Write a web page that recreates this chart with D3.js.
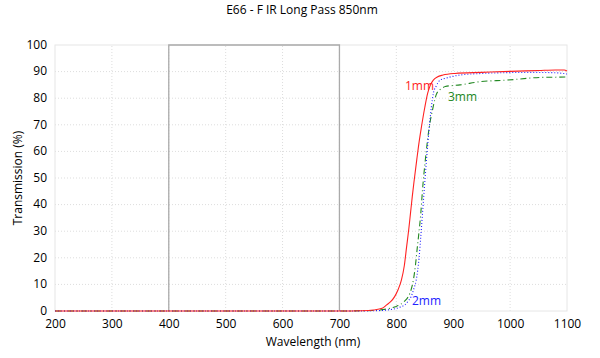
<!DOCTYPE html>
<html>
<head>
<meta charset="utf-8">
<script src="https://cdn.jsdelivr.net/npm/d3@7"></script>
<style>
  body { margin: 0; background: #fff; }
  svg text { font-family: "Comic Sans MS", "Open Sans", sans-serif; fill: #000; }
</style>
</head>
<body>
<svg id="chart" width="600" height="358"></svg>
<script>
const title = "E66 - F IR Long Pass 850nm";
const xLabel = "Wavelength (nm)";
const yLabel = "Transmission (%)";
const xTicks = [200, 300, 400, 500, 600, 700, 800, 900, 1000, 1100];
const yTicks = [0, 10, 20, 30, 40, 50, 60, 70, 80, 90, 100];
const boxRange = [400, 700];

const wl1mm = [200, 700, 740, 760, 775, 783, 790, 797, 803, 809, 814, 818, 822, 825, 828, 831, 836, 840, 844, 850, 855, 860, 865, 872, 882, 903, 950, 1000, 1050, 1080, 1095, 1100];
const t1mm  = [0, 0, 0.1, 0.4, 1, 2.3, 3.5, 5.4, 8, 11.7, 17, 24, 31, 37, 43, 48.5, 57, 63.5, 69, 76.5, 81.8, 85, 86.8, 88, 88.7, 89.3, 89.7, 90.1, 90.4, 90.6, 90.6, 90.2];

const wl2mm = [200, 700, 760, 780, 800, 808, 815, 821, 826, 831, 835, 840, 843, 846, 849, 853, 858, 865, 870, 877, 888, 912, 950, 994, 1040, 1075, 1090, 1100];
const t2mm  = [0, 0, 0.1, 0.3, 1, 1.6, 2.3, 3.8, 5.4, 8.5, 11.7, 20, 28, 36.7, 45.5, 56.8, 69.3, 81.8, 84.5, 86.8, 87.6, 88.7, 89.3, 89.6, 89.7, 89.6, 89.4, 89.1];

const wl3mm = [200, 700, 760, 775, 789, 798, 806, 814, 821, 826, 830, 834, 837, 840, 843, 846, 851, 858, 864, 871, 880, 886, 912, 947, 994, 1053, 1080, 1100];
const t3mm  = [0, 0, 0.2, 0.5, 1, 1.6, 2.3, 3.6, 5.4, 8, 11.7, 18, 24.2, 30, 36.7, 45.5, 56.8, 69.3, 76, 81.8, 83.7, 84.4, 85, 86.2, 86.8, 87.8, 87.9, 88];

const seriesNames = ["1mm", "2mm", "3mm"];
const seriesColors = ["#ff2222", "#2222ff", "#228822"];
const seriesDash = [null, "1,2", "6,3,1,3"];
const labelPos = [[405, 86], [412, 301], [448, 97]];

const svg = d3.select("#chart");
const margin = {left: 55, right: 33, top: 45, bottom: 47};
const W = 600, H = 358;
const x = d3.scaleLinear().domain([200, 1100]).range([margin.left, W - margin.right]);
const y = d3.scaleLinear().domain([0, 100]).range([H - margin.bottom, margin.top]);

// grid
const g = svg.append("g");
g.selectAll(".vg").data(xTicks.filter(d => d > 200 && d < 1100)).enter().append("line")
  .attr("x1", d => x(d)).attr("x2", d => x(d)).attr("y1", y(0)).attr("y2", y(100))
  .attr("stroke", "#dddddd").attr("stroke-width", 1).attr("stroke-dasharray", "1,2");
g.selectAll(".hg").data(yTicks.filter(d => d > 0 && d < 100)).enter().append("line")
  .attr("x1", x(200)).attr("x2", x(1100)).attr("y1", d => y(d)).attr("y2", d => y(d))
  .attr("stroke", "#dddddd").attr("stroke-width", 1).attr("stroke-dasharray", "1,2");
// frame
g.append("rect").attr("x", x(200)).attr("y", y(100)).attr("width", x(1100) - x(200)).attr("height", y(0) - y(100))
  .attr("fill", "none").attr("stroke", "#e6e6e6").attr("stroke-width", 1);

// gray box
g.append("path")
  .attr("d", `M${x(boxRange[0])},${y(0)}V${y(100)}H${x(boxRange[1])}V${y(0)}`)
  .attr("fill", "none").attr("stroke", "#aaaaaa").attr("stroke-width", 1.3);

// axes
const xAxis = svg.append("g").attr("transform", `translate(0,${y(0)})`)
  .call(d3.axisBottom(x).tickValues(xTicks).tickSize(0).tickPadding(8).tickFormat(d3.format("d")));
xAxis.select(".domain").remove();
xAxis.selectAll("text").attr("font-size", 12).style("font-family", "'Comic Sans MS','Open Sans',sans-serif");

const yAxis = svg.append("g").attr("transform", `translate(${x(200)},0)`)
  .call(d3.axisLeft(y).tickValues(yTicks).tickSize(0).tickPadding(8).tickFormat(d3.format("d")));
yAxis.select(".domain").remove();
yAxis.selectAll("text").attr("font-size", 12).attr("dy", "0.28em").style("font-family", "'Comic Sans MS','Open Sans',sans-serif");

// series
const data = [
  wl1mm.map((w, i) => [w, t1mm[i]]),
  wl2mm.map((w, i) => [w, t2mm[i]]),
  wl3mm.map((w, i) => [w, t3mm[i]])
];
const line = d3.line().x(d => x(d[0])).y(d => y(d[1])).curve(d3.curveMonotoneX);
[2, 1, 0].forEach(i => {
  svg.append("path").datum(data[i]).attr("d", line)
    .attr("fill", "none").attr("stroke", seriesColors[i]).attr("stroke-width", 1.1)
    .attr("stroke-dasharray", seriesDash[i]);
});
seriesNames.forEach((n, i) => {
  svg.append("text").attr("x", labelPos[i][0]).attr("y", labelPos[i][1]).attr("dy", "0.35em")
    .attr("text-anchor", "start").attr("font-size", 12).style("fill", seriesColors[i]).text(n);
});

// titles
svg.append("text").attr("x", 302).attr("y", 10).attr("dy", "0.35em").attr("text-anchor", "middle")
  .attr("font-size", 12).text(title);
svg.append("text").attr("x", 313).attr("y", 342).attr("dy", "0.35em").attr("text-anchor", "middle")
  .attr("font-size", 12).text(xLabel);
svg.append("text").attr("transform", `translate(18,${(y(0) + y(100)) / 2}) rotate(-90)`).attr("dy", "0.35em")
  .attr("text-anchor", "middle").attr("font-size", 12).text(yLabel);
</script>
</body>
</html>
